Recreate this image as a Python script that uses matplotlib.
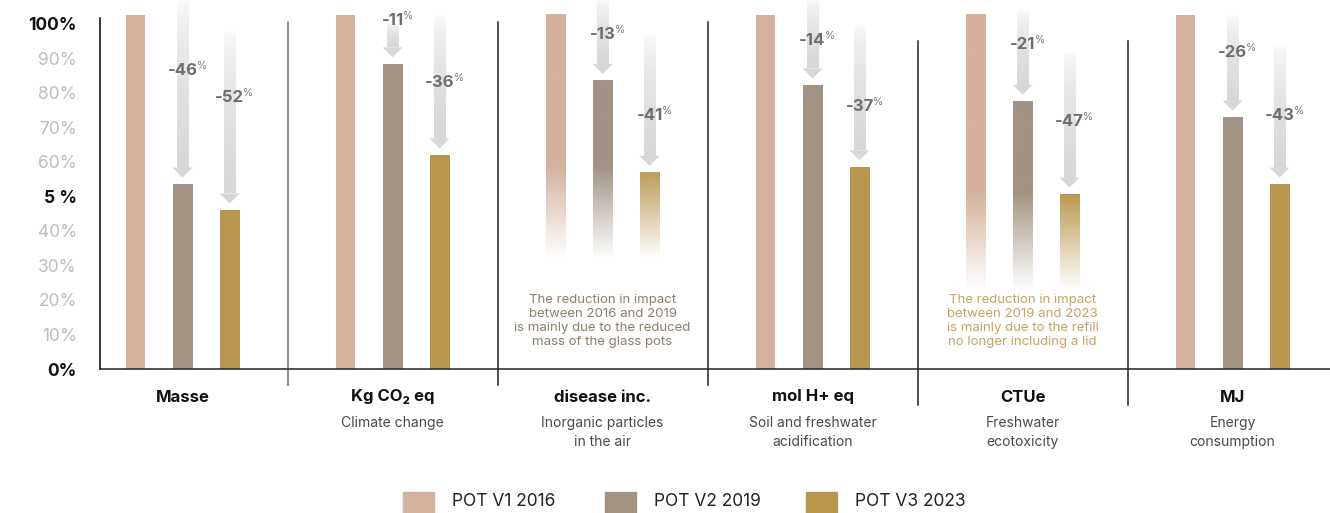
import matplotlib.pyplot as plt
import numpy as np
from matplotlib.colors import to_rgb
from matplotlib.patches import Polygon, Rectangle
from matplotlib.lines import Line2D
from matplotlib.transforms import blended_transform_factory

plt.rcParams['font.family'] = ['Inter', 'DejaVu Sans']

# data (% of the 2016 pot, as drawn)
categories = ["Masse", "Kg CO\u2082 eq", "disease inc.", "mol H+ eq", "CTUe", "MJ"]
subtitles = ["", "Climate change", "Inorganic particles\nin the air",
             "Soil and freshwater\nacidification", "Freshwater\necotoxicity",
             "Energy\nconsumption"]
series = ["POT V1 2016", "POT V2 2019", "POT V3 2023"]
v1 = [102.6, 102.6, 102.6, 102.6, 102.6, 102.6]
v2 = [53.5, 88.3, 83.5, 82.2, 77.5, 72.9]
v3 = [46.0, 61.9, 56.9, 58.5, 50.6, 53.5]
change_v2 = [-46, -11, -13, -14, -21, -26]
change_v3 = [-52, -36, -41, -37, -47, -43]
tick_vals = [0, 10, 20, 30, 40, 50, 60, 70, 80, 90, 100]
tick_labels = ["0%", "10%", "20%", "30%", "40%", "5 %", "60%", "70%", "80%", "90%", "100%"]
notes = {
    2: "The reduction in impact\nbetween 2016 and 2019\nis mainly due to the reduced\nmass of the glass pots",
    4: "The reduction in impact\nbetween 2019 and 2023\nis mainly due to the refill\nno longer including a lid",
}

# layout
colors = ["#d4b19d", "#a19383", "#b9964d"]
note_colors = {2: "#8c7d6e", 4: "#c6a35c"}
fade = {2: (58.5, 32), 4: (51, 23)}          # solid above first, white below second
label_y_v2 = [86.5, 101.0, 96.7, 95.2, 93.8, 91.5]
label_y_v3 = [78.7, 82.8, 73.5, 76.1, 71.5, 73.5]
arrow_top_v2 = [107, 100, 107, 107, 104, 102.5]
arrow_top_v3 = [97.5, 102.5, 97, 99.6, 91.7, 93.8]

W, H = 1330, 513
fig = plt.figure(figsize=(W / 100, H / 100), dpi=100)
ax = fig.add_axes([100 / W, 1 - 369 / H, 1 - 100 / W, 355 / H])
ax.set_xlim(-0.393, 5.464)
ax.set_ylim(0, 102.75)

x = np.arange(len(categories))
off = 0.224
bw = 0.095


def fy(py):
    return 1 - py / H


blend = blended_transform_factory(ax.transData, fig.transFigure)

# bars
for k, vals in enumerate([v1, v2, v3]):
    xs = x + (k - 1) * off
    for i, (xi, v) in enumerate(zip(xs, vals)):
        if i in fade:
            top_s, bot_s = fade[i]
            yy = np.linspace(0, v, 300)
            a = np.clip((yy - bot_s) / (top_s - bot_s), 0, 1)
            img = np.zeros((300, 1, 4))
            img[:, 0, :3] = to_rgb(colors[k])
            img[:, 0, 3] = a
            ax.imshow(img, extent=[xi - bw / 2, xi + bw / 2, 0, v], origin='lower',
                      aspect='auto', interpolation='bilinear', clip_on=False, zorder=2)
        else:
            ax.bar(xi, v, width=bw, color=colors[k], zorder=2, clip_on=False)

# gradient arrows with change labels
shaft_w = 0.057
head_w = 0.095
head_l = 2.9
gap = 1.9
light = np.array(to_rgb("#d7d7d7"))
for k, (vals, changes, ly, tops) in enumerate([(v2, change_v2, label_y_v2, arrow_top_v2),
                                              (v3, change_v3, label_y_v3, arrow_top_v3)]):
    xs = x + k * off
    for xi, v, c, yl, top in zip(xs, vals, changes, ly, tops):
        tip = v + gap
        base = tip + head_l
        t = np.linspace(0, 1, 200) ** 0.5
        grad = np.ones((200, 1, 3)) * (1 - t[:, None, None]) + light * t[:, None, None]
        ax.imshow(grad[::-1], extent=[xi - shaft_w / 2, xi + shaft_w / 2, base, top],
                  origin='lower', aspect='auto', interpolation='bilinear',
                  clip_on=False, zorder=1)
        ax.add_patch(Polygon([[xi - head_w / 2, base], [xi + head_w / 2, base], [xi, tip]],
                             closed=True, color="#d7d7d7", lw=0, zorder=1, clip_on=False))
        num = ax.text(xi, yl, f"{c}", ha='center', va='center', fontsize=12,
                      fontweight='bold', color="#6e6e6e", zorder=4, clip_on=False)
        ax.annotate("%", xy=(1, 0.8), xycoords=num, xytext=(-0.6, 0),
                    textcoords='offset points', ha='left', va='center',
                    fontsize=7.5, color="#7a7a7a", zorder=4)

# axes styling
for s in ["top", "right", "bottom"]:
    ax.spines[s].set_visible(False)
ax.spines["left"].set_bounds(0, 101.6)
ax.spines["left"].set_linewidth(1.1)
ax.axhline(0, color="#222222", lw=1.1, zorder=3, clip_on=False)
ax.set_xticks([])
ax.set_yticks(tick_vals)
ax.set_yticklabels(tick_labels)
ax.tick_params(axis='y', length=0, pad=16.5, labelsize=12.5)
for lab in ax.get_yticklabels():
    if lab.get_text() in ("0%", "5 %", "100%"):
        lab.set_color("#111111")
        lab.set_fontweight('bold')
    else:
        lab.set_color("#bdbdbd")

# group separators
for j in range(len(categories) - 1):
    if j < 3:
        y0, y1 = 22, 385
    else:
        y0, y1 = 41, 405
    ax.add_line(Line2D([j + 0.5, j + 0.5], [fy(y0), fy(y1)], transform=blend,
                       color="#6f6f6f" if j == 0 else "#222222", lw=1.1, clip_on=False))

# category labels
for i, (cat, sub) in enumerate(zip(categories, subtitles)):
    ax.text(i, fy(397), cat, transform=blend, ha='center', va='center',
            fontsize=12, fontweight='bold', color="#111111")
    if sub:
        ax.text(i, fy(416), sub, transform=blend, ha='center', va='top',
                fontsize=10, color="#4a4a4a", linespacing=1.45)

# notes
for i, txt in notes.items():
    ax.text(i, fy(321), txt, transform=blend, ha='center', va='center',
            fontsize=9.5, color=note_colors[i], linespacing=1.25)

# legend
for px, name, col in zip([403, 605, 806], series, colors):
    fig.patches.append(Rectangle((px / W, fy(513)), 31 / W, 21 / H,
                                 transform=fig.transFigure, color=col, figure=fig))
    fig.text((px + 49) / W, fy(502), name, ha='left', va='center',
             fontsize=12.5, color="#222222")

fig.savefig("out.png", dpi=100)
